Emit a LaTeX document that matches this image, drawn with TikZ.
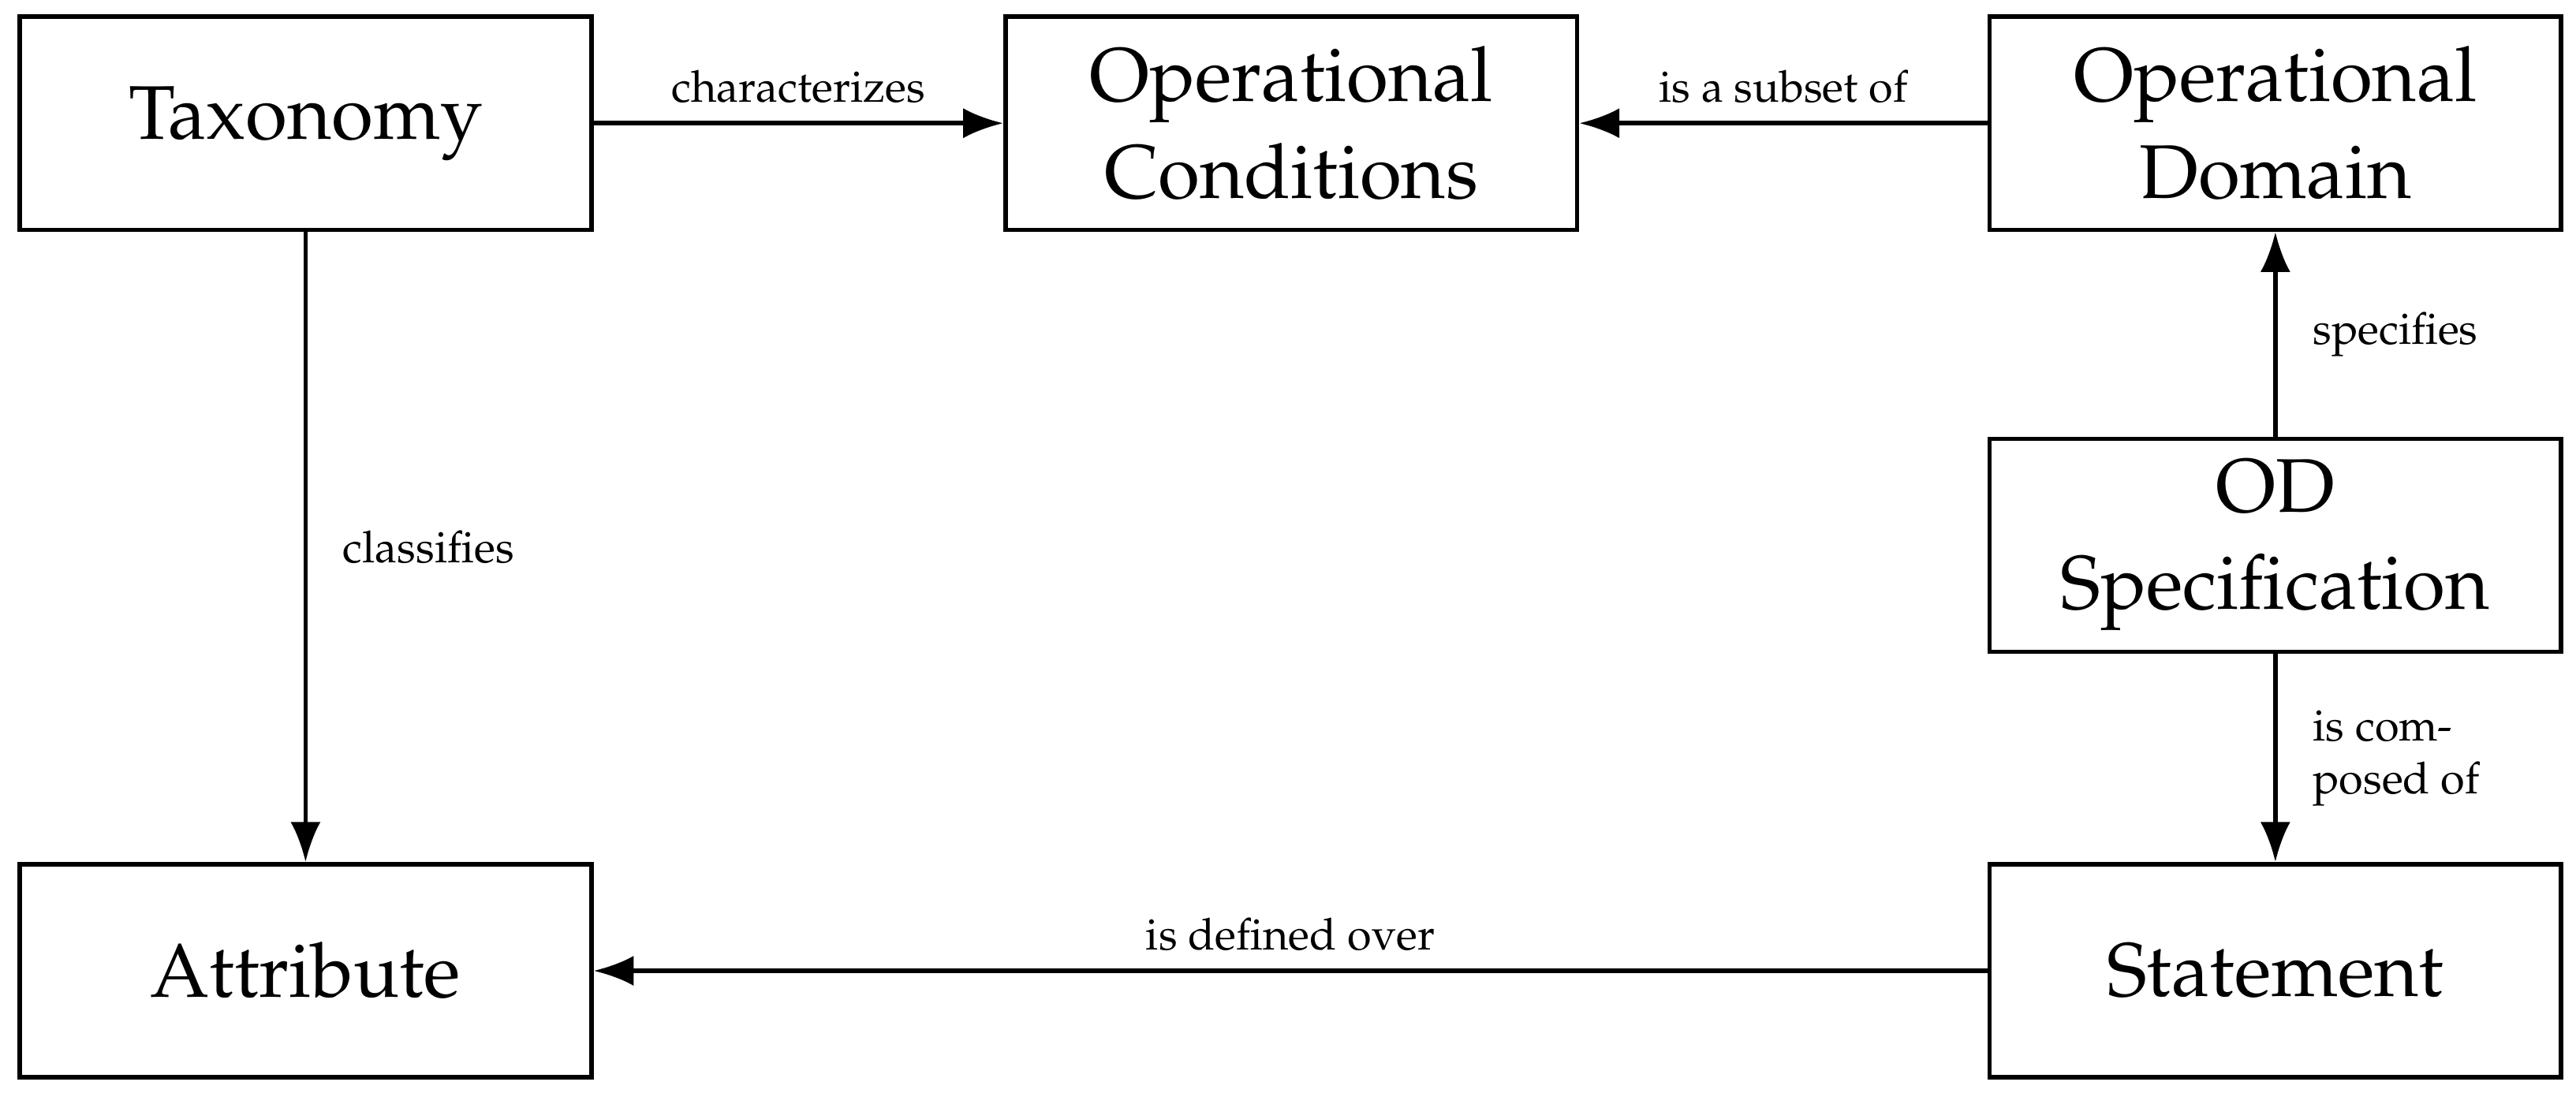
\documentclass[tikz,border=0pt]{standalone}
\usepackage[T1]{fontenc}
\usepackage{mathpazo}
\usetikzlibrary{arrows.meta,positioning}
\tikzset{
  box/.style={
    draw,
    line width=1pt,
    align=center,
    minimum width=45.6mm,
    minimum height=17mm,
    inner sep=4pt,
    font=\LARGE
  },
  arrow/.style={-{Latex[length=3.2mm,width=2.4mm]}, line width=1pt},
  lbl/.style={font=\normalsize, inner sep=4pt}
}
\begin{document}
\begin{tikzpicture}[x=0.0131cm, y=-0.0131cm]
\useasboundingbox (0,0) rectangle (1568,665);

\node[box] (tax) at (186,75) {Taxonomy};
\node[box] (cond) at (786,75) {Operational\\Conditions};
\node[box] (dom) at (1385,75) {Operational\\Domain};
\node[box] (spec) at (1385,332) {OD\\Specification};
\node[box] (attr) at (186,591) {Attribute};
\node[box] (stmt) at (1385,591) {Statement};

\draw[arrow] (tax) -- node[lbl, above] {characterizes} (cond);
\draw[arrow] (dom) -- node[lbl, above] {is a subset of} (cond);
\draw[arrow] (spec) -- node[lbl, right, xshift=4pt] {specifies} (dom);
\draw[arrow] (tax) -- node[lbl, right, xshift=4pt] {classifies} (attr);
\draw[arrow] (spec) -- node[lbl, right, xshift=4pt, align=left] {is com-\\posed of} (stmt);
\draw[arrow] (stmt) -- node[lbl, above] {is defined over} (attr);

\end{tikzpicture}
\end{document}
